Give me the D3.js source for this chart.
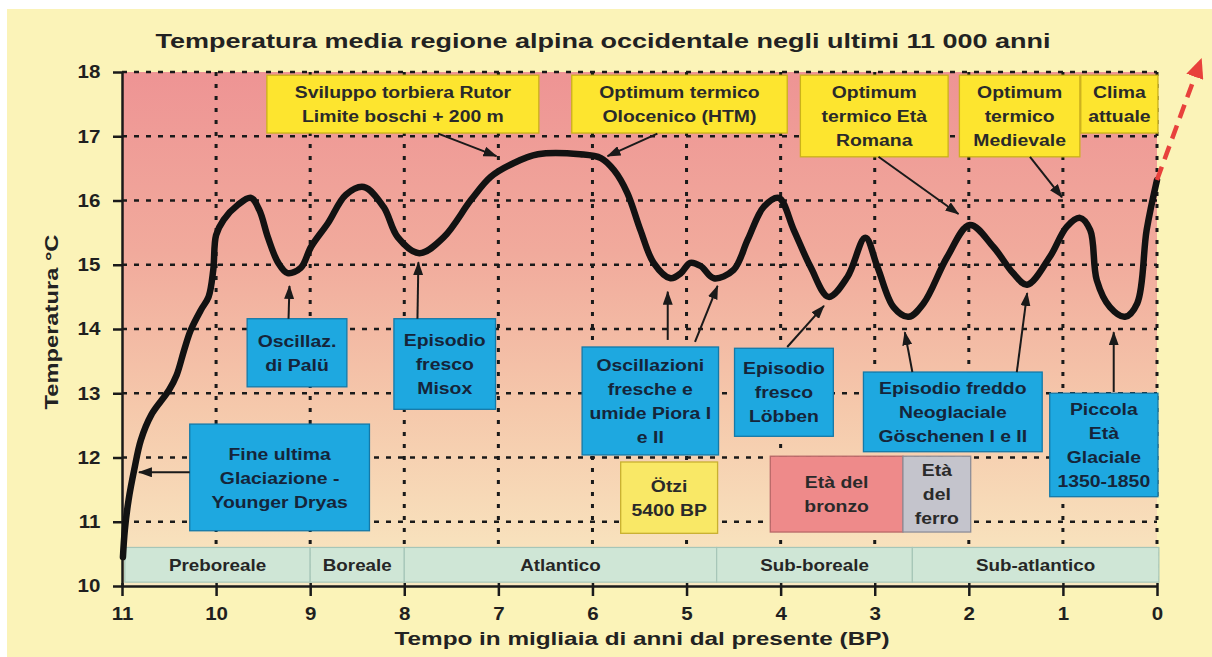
<!DOCTYPE html>
<html><head><meta charset="utf-8">
<script src="https://cdn.jsdelivr.net/npm/d3@7"></script>
<style>
html,body{margin:0;padding:0;background:#fff;}
svg{display:block;}
text{font-family:"Liberation Sans",Arial,Helvetica,sans-serif;font-weight:bold;}
</style>
</head><body>
<svg id="chart" width="1212" height="657"></svg>
<script>
// ---------------- DATA ----------------
// time in thousands of years before present (BP)
const years = [10.99,10.97,10.93,10.87,10.80,10.69,10.58,10.50,10.42,10.34,10.27,10.16,10.08,10.03,10.00,9.92,9.77,9.63,
  9.54,9.45,9.34,9.24,9.10,8.99,8.81,8.62,8.43,8.22,8.07,7.84,7.58,7.29,7.08,6.84,6.58,6.13,5.91,5.77,5.63,5.49,5.35,5.17,
  5.06,4.96,4.85,4.71,4.50,4.35,4.18,4.02,3.86,3.68,3.49,3.29,3.10,2.97,2.80,2.64,2.48,2.23,1.99,1.74,1.53,1.38,1.14,0.96,
  0.82,0.71,0.64,0.50,0.34,0.21,0.11,0.0];
// mean temperature (°C)
const temps = [10.45,10.87,11.34,11.81,12.27,12.66,12.89,13.05,13.28,13.67,13.98,14.30,14.50,14.92,15.46,15.70,15.93,16.04,
  15.85,15.43,15.03,14.87,14.95,15.28,15.65,16.09,16.21,15.90,15.43,15.18,15.43,16.01,16.37,16.58,16.72,16.72,16.66,16.47,16.12,15.54,15.03,14.79,
  14.87,15.03,14.98,14.79,14.92,15.39,15.90,16.04,15.54,14.96,14.50,14.81,15.42,14.96,14.34,14.19,14.40,15.12,15.62,15.28,14.87,14.69,15.12,15.59,
  15.73,15.54,14.76,14.34,14.19,14.40,15.54,16.32];
// projected present-day warming (start, end)
const trendYears = [0.0, -0.46];
const trendTemps = [16.32, 18.16];

const xTicks = [11,10,9,8,7,6,5,4,3,2,1,0];
const yTicks = [10,11,12,13,14,15,16,17,18];

const phaseNames = ["Preboreale","Boreale","Atlantico","Sub-boreale","Sub-atlantico"];
const phaseBounds = [10.97, 9.0, 8.0, 4.68, 2.6, -0.02];

const noteTexts = [
  ["Sviluppo torbiera Rutor","Limite boschi + 200 m"],
  ["Optimum termico","Olocenico (HTM)"],
  ["Optimum","termico Età","Romana"],
  ["Optimum","termico","Medievale"],
  ["Clima","attuale"],
  ["Oscillaz.","di Palü"],
  ["Episodio","fresco","Misox"],
  ["Fine ultima","Glaciazione -","Younger Dryas"],
  ["Oscillazioni","fresche e","umide Piora I","e II"],
  ["Episodio","fresco","Löbben"],
  ["Episodio freddo","Neoglaciale","Göschenen I e II"],
  ["Piccola","Età","Glaciale","1350-1850"],
  ["Ötzi","5400 BP"],
  ["Età del","bronzo"],
  ["Età","del","ferro"]
];

// ---------------- LAYOUT (data coordinates: [t1, t2, T1, T2]) ----------------
const noteBoxes = [
  [9.46,6.57,17.95,17.05],[6.22,3.93,17.95,17.05],[3.79,2.22,17.95,16.68],[2.10,0.82,17.95,16.68],[0.81,-0.01,17.95,17.05],
  [9.67,8.61,14.16,13.10],[8.11,7.03,14.16,12.75],[10.28,8.37,12.52,10.86],[6.11,4.66,13.72,12.04],[4.49,3.44,13.70,12.33],
  [3.12,1.22,13.33,12.09],[1.14,-0.01,13.00,11.39],[5.70,4.67,11.93,10.82],[4.11,2.70,12.02,10.84],[2.70,1.98,12.02,10.84]
];
const noteStyle = ["y","y","y","y","y","b","b","b","b","b","b","b","o","r","g"];
const noteArrows = [
  [7.64,17.04,7.02,16.69],[5.31,17.04,5.84,16.69],[2.96,16.68,2.11,15.79],[1.35,16.68,1.01,16.05],
  [9.23,14.16,9.22,14.67],[7.86,14.16,7.85,15.04],[10.28,11.77,10.82,11.77],
  [5.20,13.83,5.20,14.58],[4.91,13.80,4.67,14.67],[3.93,13.72,3.54,14.36],
  [2.60,13.33,2.68,13.95],[1.49,13.33,1.38,14.56],[0.46,13.02,0.46,13.95]
];
const fills = {y:"#fde52f", b:"#1ea8e0", o:"#f9e866", r:"#ee8a8a", g:"#c4c4cc"};
const strokes = {y:"#cbb21a", b:"#1479a8", o:"#c9b030", r:"#b86868", g:"#8d8d98"};

const SX = 1.14;
const svg = d3.select("#chart");
const W = 1212, H = 657;
const x = d3.scaleLinear().domain([11,0]).range([122,1157]);
const y = d3.scaleLinear().domain([10,18]).range([586,72]);

// backgrounds
svg.append("rect").attr("width",W).attr("height",H).attr("fill","#ffffff");
svg.append("rect").attr("x",7).attr("y",9).attr("width",W-7).attr("height",H-9).attr("fill","#fbf3b8");

const defs = svg.append("defs");
const grad = defs.append("linearGradient").attr("id","bg").attr("x1",0).attr("y1",0).attr("x2",0).attr("y2",1);
[[0,"#ee9494"],[0.35,"#f1aa9c"],[0.65,"#f5c8ab"],[1,"#f9e9c2"]].forEach(s=>grad.append("stop").attr("offset",s[0]).attr("stop-color",s[1]));
defs.append("marker").attr("id","ah").attr("markerUnits","userSpaceOnUse").attr("markerWidth",14).attr("markerHeight",10)
  .attr("refX",13).attr("refY",5).attr("orient","auto").append("path").attr("d","M0,0 L14,5 L0,10 Z").attr("fill","#1a1a1a");
defs.append("marker").attr("id","ahr").attr("markerUnits","userSpaceOnUse").attr("markerWidth",20).attr("markerHeight",18)
  .attr("refX",16).attr("refY",9).attr("orient","auto").append("path").attr("d","M0,0 L20,9 L0,18 Z").attr("fill","#e8413c");

svg.append("rect").attr("x",x(11)).attr("y",y(18)).attr("width",x(0)-x(11)).attr("height",y(10)-y(18)).attr("fill","url(#bg)");

// grid
const grid = svg.append("g");
grid.selectAll(".hg").data(yTicks.filter(d=>d>10)).join("line")
  .attr("x1",x(11)).attr("x2",x(0)).attr("y1",d=>y(d)).attr("y2",d=>y(d))
  .attr("stroke","#1a1a1a").attr("stroke-width",2.5).attr("stroke-dasharray","5,7");
grid.selectAll(".vg").data(xTicks.filter(d=>d<11)).join("line")
  .attr("x1",d=>x(d)).attr("x2",d=>x(d)).attr("y1",y(18)).attr("y2",y(10))
  .attr("stroke","#1a1a1a").attr("stroke-width",3).attr("stroke-dasharray","4,8");

// phases band
const band = svg.append("g");
phaseNames.forEach((n,i)=>{
  const x0 = x(phaseBounds[i]), x1 = x(phaseBounds[i+1]);
  band.append("rect").attr("x",x0).attr("y",y(10.6)).attr("width",x1-x0).attr("height",y(10.06)-y(10.6))
    .attr("fill","#cfe6d6").attr("stroke","#a6c6b8").attr("stroke-width",1.2);
  band.append("text").attr("transform",`translate(${(x0+x1)/2},${(y(10.6)+y(10.06))/2}) scale(${SX},1)`)
    .attr("text-anchor","middle").attr("dy","0.36em").style("font-size","16.5px").attr("fill","#262626").text(n);
});

// axes
const ax = svg.append("g").attr("transform",`translate(0,${y(10)})`)
  .call(d3.axisBottom(x).tickValues(xTicks).tickFormat(d3.format("d")).tickSizeInner(10).tickSizeOuter(0).tickPadding(11));
const ay = svg.append("g").attr("transform",`translate(${x(11)},0)`)
  .call(d3.axisLeft(y).tickValues(yTicks).tickFormat(d3.format("d")).tickSizeInner(9).tickSizeOuter(0).tickPadding(10));
[ax,ay].forEach(a=>{
  a.select(".domain").attr("stroke","#1a1a1a").attr("stroke-width",2.5);
  a.selectAll(".tick line").attr("stroke","#1a1a1a").attr("stroke-width",2.5);
  a.selectAll(".tick text").attr("fill","#1f1f1f").style("font-size","18px")
    .style("font-family","'Liberation Sans',Arial,sans-serif").style("font-weight","bold");
});
ax.selectAll(".tick line").attr("y1",-3);
ax.selectAll(".tick text").attr("transform",`scale(${SX},1)`);
ay.selectAll(".tick text").attr("transform",`scale(${SX},1)`);

// annotation boxes
const notes = svg.append("g");
noteTexts.forEach((lines,i)=>{
  const b = noteBoxes[i], k = noteStyle[i];
  const x0 = x(b[0]), x1 = x(b[1]), y0 = y(b[2]), y1 = y(b[3]);
  notes.append("rect").attr("x",x0).attr("y",y0).attr("width",x1-x0).attr("height",y1-y0)
    .attr("fill",fills[k]).attr("stroke",strokes[k]).attr("stroke-width",1.3);
  const t = notes.append("text").attr("transform",`translate(${(x0+x1)/2},${(y0+y1)/2}) scale(${SX},1)`)
    .attr("text-anchor","middle").style("font-size","17px").attr("fill", k==="b" ? "#15253a" : "#2a2a2a");
  const n = lines.length, lh = 24;
  lines.forEach((s,j)=>t.append("tspan").attr("x",0).attr("y",(j-(n-1)/2)*lh).attr("dy","0.36em").text(s));
});

// temperature curve
const line = d3.line().x(d=>x(d[0])).y(d=>y(d[1])).curve(d3.curveCatmullRom.alpha(0.5));
svg.append("path").datum(years.map((t,i)=>[t,temps[i]])).attr("d",line)
  .attr("fill","none").attr("stroke","#121212").attr("stroke-width",6.5).attr("stroke-linejoin","round").attr("stroke-linecap","round");

// arrows
svg.append("g").selectAll("line").data(noteArrows).join("line")
  .attr("x1",d=>x(d[0])).attr("y1",d=>y(d[1])).attr("x2",d=>x(d[2])).attr("y2",d=>y(d[3]))
  .attr("stroke","#1a1a1a").attr("stroke-width",2).attr("marker-end","url(#ah)");

svg.append("line").attr("x1",x(trendYears[0])).attr("y1",y(trendTemps[0])).attr("x2",x(trendYears[1])).attr("y2",y(trendTemps[1]))
  .attr("stroke","#e8413c").attr("stroke-width",4.5).attr("stroke-dasharray","14,8").attr("marker-end","url(#ahr)");

// titles
svg.append("text").attr("x",603).attr("y",48).attr("text-anchor","middle").attr("textLength",895).attr("lengthAdjust","spacingAndGlyphs")
  .style("font-size","21px").attr("fill","#222").text("Temperatura media regione alpina occidentale negli ultimi 11 000 anni");
svg.append("text").attr("x",642).attr("y",645).attr("text-anchor","middle").attr("textLength",495).attr("lengthAdjust","spacingAndGlyphs")
  .style("font-size","18.5px").attr("fill","#222").text("Tempo in migliaia di anni dal presente (BP)");
svg.append("text").attr("transform","translate(58,322) rotate(-90)").attr("text-anchor","middle").attr("textLength",175).attr("lengthAdjust","spacingAndGlyphs")
  .style("font-size","18px").attr("fill","#222").text("Temperatura °C");
</script>
</body></html>
